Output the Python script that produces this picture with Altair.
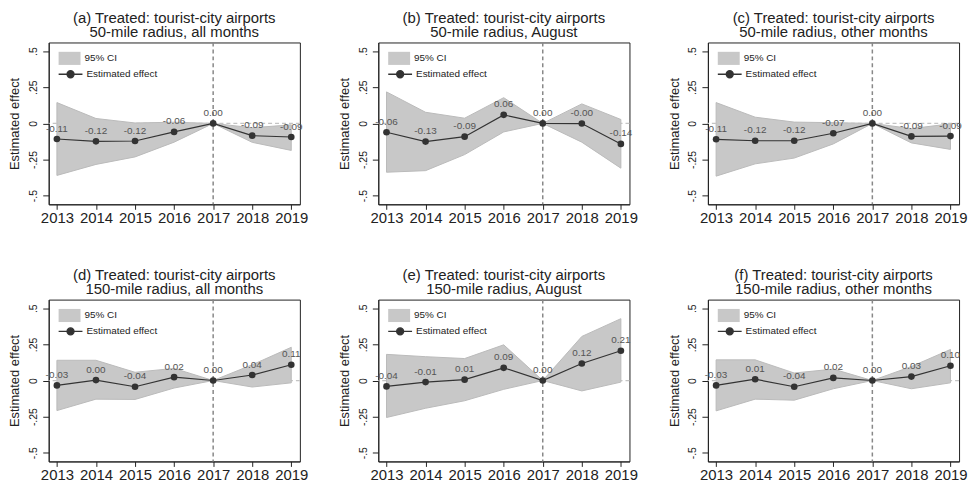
import altair as alt
import pandas as pd

years = [2013, 2014, 2015, 2016, 2017, 2018, 2019]

titles = [
    ["(a) Treated: tourist-city airports", "50-mile radius, all months"],
    ["(b) Treated: tourist-city airports", "50-mile radius, August"],
    ["(c) Treated: tourist-city airports", "50-mile radius, other months"],
    ["(d) Treated: tourist-city airports", "150-mile radius, all months"],
    ["(e) Treated: tourist-city airports", "150-mile radius, August"],
    ["(f) Treated: tourist-city airports", "150-mile radius, other months"],
]

est_a = [-0.108, -0.124, -0.122, -0.059, 0.0, -0.085, -0.094]
lo_a = [-0.360, -0.284, -0.232, -0.130, 0.0, -0.131, -0.187]
hi_a = [0.144, 0.034, 0.003, 0.008, 0.0, -0.030, -0.010]

est_b = [-0.061, -0.126, -0.092, 0.059, 0.0, -0.001, -0.142]
lo_b = [-0.338, -0.327, -0.216, -0.059, 0.0, -0.130, -0.310]
hi_b = [0.218, 0.077, 0.036, 0.178, 0.0, 0.135, 0.027]

est_c = [-0.110, -0.120, -0.120, -0.068, 0.0, -0.090, -0.088]
lo_c = [-0.365, -0.280, -0.240, -0.142, 0.0, -0.135, -0.180]
hi_c = [0.144, 0.043, 0.009, 0.005, 0.0, -0.036, -0.003]

est_d = [-0.034, 0.003, -0.043, 0.023, 0.0, 0.038, 0.109]
lo_d = [-0.208, -0.129, -0.131, -0.052, 0.0, -0.045, -0.016]
hi_d = [0.140, 0.140, 0.057, 0.084, 0.0, 0.109, 0.230]

est_e = [-0.041, -0.011, 0.006, 0.088, 0.0, 0.118, 0.206]
lo_e = [-0.256, -0.192, -0.140, -0.061, 0.0, -0.072, -0.011]
hi_e = [0.181, 0.165, 0.152, 0.247, 0.0, 0.305, 0.428]

est_f = [-0.034, 0.009, -0.043, 0.018, 0.0, 0.027, 0.102]
lo_f = [-0.210, -0.129, -0.136, -0.057, 0.0, -0.057, -0.016]
hi_f = [0.143, 0.143, 0.052, 0.079, 0.0, 0.097, 0.215]

y_ticks = [-0.5, -0.25, 0, 0.25, 0.5]
ci_name = "95% CI"
est_name = "Estimated effect"

FONT = "Liberation Sans"
DARK = "#333333"
BAND = "#c8c8c8"

W, H = 253, 163


def panel(title, est, lo, hi):
    df = pd.DataFrame({
        "year": years, "est": est, "lo": lo, "hi": hi,
        "label": [f"{v:.2f}" for v in est],
        "ci": ci_name, "series": est_name,
    })
    xscale = alt.Scale(domain=[2012.79, 2019.22], nice=False, zero=False)
    xaxis = alt.Axis(values=years, format="d", title=None, labelFontSize=15,
                     labelPadding=1, labelFlush=False, labelOverlap=False,
                     tickSize=5)
    yscale = alt.Scale(domain=[-0.56, 0.56], nice=False, zero=False)
    yaxis = alt.Axis(values=y_ticks, title="Estimated effect", titleFontSize=13,
                     titleFontWeight="normal", titlePadding=7,
                     labelExpr="datum.value == 0 ? '0' : (datum.value < 0 ? '-' : '') + replace(format(abs(datum.value), '.2~f'), '0.', '.')",
                     labelAngle=270, labelAlign="center", labelBaseline="bottom",
                     labelFontSize=10.5, labelPadding=4, tickSize=6)

    def X(f):
        return alt.X(f, scale=xscale, axis=xaxis)

    def Y(f):
        return alt.Y(f, scale=yscale, axis=yaxis)

    base = alt.Chart(df)
    zero = alt.Chart(pd.DataFrame({"v": [0]})).mark_rule(
        color="#c4c4c4", strokeDash=[4, 3], strokeWidth=1.3
    ).encode(y=Y("v:Q"))
    band = base.mark_area(stroke="#bababa", strokeWidth=1, opacity=1).encode(
        x=X("year:Q"), y=Y("lo:Q"), y2="hi:Q",
        fill=alt.Fill("ci:N", scale=alt.Scale(domain=[ci_name], range=[BAND]),
                      legend=alt.Legend(title=None, orient="none", legendX=9, legendY=4,
                                        symbolType="M-0.92,-0.55H0.92V0.55H-0.92Z",
                                        symbolSize=576, symbolStrokeWidth=0,
                                        labelFont=FONT, labelFontSize=10,
                                        labelColor="#222222", labelOffset=3, padding=0)),
    )
    vline = alt.Chart(pd.DataFrame({"yr": [2017]})).mark_rule(
        color="#888888", strokeDash=[4, 3], strokeWidth=1.5
    ).encode(x=X("yr:Q"))
    line = base.mark_line(strokeWidth=1.2).encode(
        x=X("year:Q"), y=Y("est:Q"),
        stroke=alt.Stroke("series:N", scale=alt.Scale(domain=[est_name], range=[DARK]),
                          legend=alt.Legend(title=None, orient="none", legendX=9, legendY=19,
                                            symbolType="M-1,0H1M-0.29,0A0.29,0.29,0,1,0,0.29,0A0.29,0.29,0,1,0,-0.29,0Z",
                                            symbolSize=576, symbolStrokeWidth=1.4,
                                            symbolFillColor=DARK,
                                            labelFont=FONT, labelFontSize=10,
                                            labelColor="#222222", labelOffset=3, padding=0)),
    )
    pts = base.mark_circle(size=45, color=DARK, opacity=1).encode(
        x=X("year:Q"), y=Y("est:Q")
    )
    txt = base.mark_text(dy=-10.5, fontSize=10, color="#555555", font=FONT).encode(
        x=X("year:Q"), y=Y("est:Q"), text="label:N"
    )
    return alt.layer(zero, band, vline, line, pts, txt).properties(
        width=W, height=H,
        title=alt.TitleParams(text=title, fontSize=15, lineHeight=14, offset=2,
                              font=FONT, fontWeight="normal", color="#222222",
                              anchor="middle"),
    ).resolve_scale(fill="independent", stroke="independent")


ests = [est_a, est_b, est_c, est_d, est_e, est_f]
los = [lo_a, lo_b, lo_c, lo_d, lo_e, lo_f]
his = [hi_a, hi_b, hi_c, hi_d, hi_e, hi_f]
panels = [panel(t, e, l, h) for t, e, l, h in zip(titles, ests, los, his)]

row1 = alt.hconcat(*panels[:3], spacing=29).resolve_scale(
    fill="independent", stroke="independent").resolve_legend(fill="independent", stroke="independent")
row2 = alt.hconcat(*panels[3:], spacing=29).resolve_scale(
    fill="independent", stroke="independent").resolve_legend(fill="independent", stroke="independent")

chart = alt.vconcat(row1, row2, spacing=41).resolve_scale(
    fill="independent", stroke="independent"
).resolve_legend(fill="independent", stroke="independent").properties(
    padding=0, background="white"
).configure_view(stroke="#222222", strokeWidth=1).configure_axis(
    domainColor="#222222", tickColor="#222222", labelColor="#222222",
    titleColor="#222222", labelFont=FONT, titleFont=FONT, grid=False,
    domainWidth=1, tickWidth=1,
)

chart.save("out.html", embed_options={"renderer": "svg", "actions": False})
